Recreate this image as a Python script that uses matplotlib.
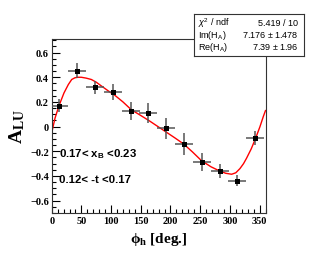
import numpy as np
import matplotlib.pyplot as plt
from matplotlib.ticker import MultipleLocator

plt.rcParams["mathtext.fontset"] = "custom"
plt.rcParams["mathtext.rm"] = "Liberation Sans"
plt.rcParams["mathtext.it"] = "Liberation Sans:italic"
plt.rcParams["mathtext.bf"] = "Liberation Serif:bold"
plt.rcParams["mathtext.sf"] = "Liberation Sans:bold"

# binned asymmetry points
phi = [12.3, 42.6, 72.9, 103.2, 133, 162.6, 192.4, 222.2, 252.5, 282.8, 312.5, 342.8]
alu = [0.17, 0.453, 0.32, 0.28, 0.124, 0.113, -0.015, -0.14, -0.284, -0.36, -0.44, -0.096]
alu_err = [0.05, 0.06, 0.052, 0.064, 0.072, 0.08, 0.088, 0.088, 0.072, 0.057, 0.044, 0.057]
phi_err = [15] * 12

# fit curve
fit_phi = [0, 5.6, 12.3, 20.7, 28, 33.7, 39.2, 44.5, 49.8, 58, 66.7, 75, 83.5, 98, 106,
           120, 134, 150, 165, 179, 193, 207, 222, 237, 252, 268, 283, 293, 303, 310,
           317, 323, 328, 336, 343.4, 350.7, 356.4, 360]
fit_alu = [-0.05, 0.069, 0.17, 0.273, 0.341, 0.382, 0.396, 0.40, 0.40, 0.393, 0.382,
           0.36, 0.33, 0.28, 0.255, 0.2, 0.137, 0.09, 0.045, 0.0, -0.045, -0.09, -0.14,
           -0.205, -0.275, -0.325, -0.36, -0.378, -0.386, -0.374, -0.34, -0.3, -0.257,
           -0.18, -0.094, 0.0, 0.083, 0.13]

stat_names = [r"$\chi^2$ / ndf", r"Im(H$_{\rm A}$)", r"Re(H$_{\rm A}$)"]
stat_vals = ["5.419 / 10", "7.176 $\\pm$ 1.478", "7.39 $\\pm$ 1.96"]

serif = ["Liberation Serif", "DejaVu Serif"]
sans = "Liberation Sans"

fig = plt.figure(figsize=(3.15, 2.55), dpi=100)
ax = fig.add_axes([51.7 / 315, 41 / 255, 213.8 / 315, 174 / 255])

ax.plot(fit_phi, fit_alu, color="red", lw=1.0, zorder=2)
ax.errorbar(phi, alu, yerr=alu_err, xerr=phi_err, fmt="s", color="black", ms=3.6, mew=0,
            ecolor="#555555", elinewidth=1.1, capsize=0, zorder=3)

ax.set_xlim(0, 360)
ax.set_ylim(-0.7, 0.71)
ax.xaxis.set_major_locator(MultipleLocator(50))
ax.xaxis.set_minor_locator(MultipleLocator(10))
ax.yaxis.set_major_locator(MultipleLocator(0.2))
ax.yaxis.set_minor_locator(MultipleLocator(0.05))
ax.tick_params(which="both", direction="in", top=False, right=False, width=0.8)
ax.tick_params(which="major", length=6, pad=2)
ax.tick_params(which="minor", length=3)
for s in ax.spines.values():
    s.set_linewidth(0.8)
    s.set_color("#333333")

ax.set_xticks([0, 50, 100, 150, 200, 250, 300, 350])
ax.set_yticks([-0.6, -0.4, -0.2, 0, 0.2, 0.4, 0.6])
ax.set_yticklabels(["\u22120.6", "\u22120.4", "\u22120.2", "0", "0.2", "0.4", "0.6"])
for lab in ax.get_xticklabels() + ax.get_yticklabels():
    lab.set_fontfamily(serif)
    lab.set_fontweight("bold")
    lab.set_fontsize(7.5)

ax.set_xlabel("\u03d5$_{\\mathbf{h}}$ [deg.]", fontfamily=serif, fontweight="bold", fontsize=11)
ax.set_ylabel(r"$\mathbf{A_{LU}}$", fontfamily=serif, fontsize=14, labelpad=2)

ax.text(0.034, 0.345, r"0.17< x$_{\mathsf{B}}$ <0.23", transform=ax.transAxes,
        fontfamily=sans, fontweight="bold", fontsize=8.2, va="center")
ax.text(0.034, 0.195, "0.12< -t <0.17", transform=ax.transAxes,
        fontfamily=sans, fontweight="bold", fontsize=8.2, va="center")

# stats box
bx = fig.add_axes([194 / 315, 1 - 57.3 / 255, 110 / 315, 42.3 / 255])
bx.set_xticks([])
bx.set_yticks([])
for s in bx.spines.values():
    s.set_linewidth(0.8)
    s.set_color("#333333")
for i in range(3):
    yy = 0.8 - i * 0.28
    bx.text(0.04, yy, stat_names[i], fontfamily=sans, fontsize=6.5, va="center")
    bx.text(0.95, yy, stat_vals[i], fontfamily=sans, fontsize=6.5, va="center", ha="right")

fig.savefig("out.png", dpi=100)
